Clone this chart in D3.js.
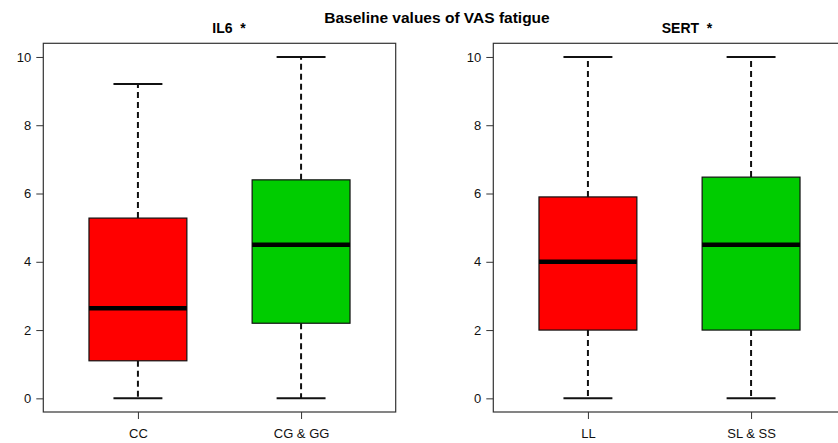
<!DOCTYPE html>
<html lang="en">
<head>
    <meta charset="UTF-8">
    <title>Baseline values of VAS fatigue</title>
    <script src="https://cdn.jsdelivr.net/npm/d3@7/dist/d3.min.js"></script>
    <style>
        body { margin: 0; background: #fff; }
        text { font-family: "Liberation Sans", Arial, sans-serif; }
        .title { font-weight: bold; font-size: 14px; }
        .main { font-weight: bold; font-size: 15.5px; }
    </style>
</head>
<body>
    <script>
        // five-number summaries
        var il6Groups = ["CC", "CG & GG"];
        var il6Low    = [0, 0];
        var il6Q1     = [1.1, 2.2];
        var il6Median = [2.64, 4.5];
        var il6Q3     = [5.28, 6.4];
        var il6High   = [9.21, 10];

        var sertGroups = ["LL", "SL & SS"];
        var sertLow    = [0, 0];
        var sertQ1     = [2, 2];
        var sertMedian = [4, 4.5];
        var sertQ3     = [5.9, 6.48];
        var sertHigh   = [10, 10];

        var boxColors = ["#ff0000", "#00cc00"];
        var yTicks = [0, 2, 4, 6, 8, 10];

        var svg = d3.select("body").append("svg")
            .attr("width", 838)
            .attr("height", 443);

        svg.append("text")
            .attr("class", "main")
            .attr("x", 437).attr("y", 23)
            .attr("text-anchor", "middle")
            .text("Baseline values of VAS fatigue");

        function drawPanel(left, groups, low, q1, med, q3, high, title, titleX) {
            var w = 352.4, top = 43.3, bottom = 412;
            // R style: 4% padding on each axis
            var x = d3.scaleLinear().domain([0.5 - 0.08, 2.5 + 0.08]).range([left, left + w]);
            var y = d3.scaleLinear().domain([-0.4, 10.4]).range([bottom, top]);

            var g = svg.append("g");

            g.append("rect")
                .attr("x", left).attr("y", top)
                .attr("width", w).attr("height", bottom - top)
                .attr("fill", "none").attr("stroke", "#333").attr("stroke-width", 1.2);

            var yAxis = d3.axisLeft(y).tickValues(yTicks).tickSize(7).tickPadding(5);
            var ya = g.append("g").attr("transform", "translate(" + left + ",0)").call(yAxis);
            ya.select(".domain").remove();
            ya.selectAll("line").attr("stroke", "#333");

            var xAxis = d3.axisBottom(x).tickValues([1, 2]).tickSize(7).tickPadding(10)
                .tickFormat(function(d) { return groups[d - 1]; });
            var xa = g.append("g").attr("transform", "translate(0," + bottom + ")").call(xAxis);
            xa.select(".domain").remove();
            xa.selectAll("line").attr("stroke", "#333");

            g.selectAll(".tick text")
                .attr("fill", "#111")
                .style("font-size", "13px")
                .style("font-family", "'Liberation Sans', Arial, sans-serif");

            var data = groups.map(function(n, i) {
                return { i: i + 1, low: low[i], q1: q1[i], med: med[i], q3: q3[i], high: high[i] };
            });

            var bw = 0.3, cap = 0.15;
            var box = g.selectAll(".box").data(data).enter().append("g").attr("class", "box");

            // whiskers
            box.append("line")
                .attr("x1", d => x(d.i)).attr("x2", d => x(d.i))
                .attr("y1", d => y(d.q3)).attr("y2", d => y(d.high))
                .attr("stroke", "#111").attr("stroke-width", 2).attr("stroke-dasharray", "6,4");
            box.append("line")
                .attr("x1", d => x(d.i)).attr("x2", d => x(d.i))
                .attr("y1", d => y(d.q1)).attr("y2", d => y(d.low))
                .attr("stroke", "#111").attr("stroke-width", 2).attr("stroke-dasharray", "6,4");
            // caps
            box.append("line")
                .attr("x1", d => x(d.i - cap)).attr("x2", d => x(d.i + cap))
                .attr("y1", d => y(d.high)).attr("y2", d => y(d.high))
                .attr("stroke", "#111").attr("stroke-width", 2);
            box.append("line")
                .attr("x1", d => x(d.i - cap)).attr("x2", d => x(d.i + cap))
                .attr("y1", d => y(d.low)).attr("y2", d => y(d.low))
                .attr("stroke", "#111").attr("stroke-width", 2);
            // boxes
            box.append("rect")
                .attr("x", d => x(d.i - bw)).attr("width", d => x(d.i + bw) - x(d.i - bw))
                .attr("y", d => y(d.q3)).attr("height", d => y(d.q1) - y(d.q3))
                .attr("fill", (d, i) => boxColors[i])
                .attr("stroke", "#111").attr("stroke-width", 1.2);
            // medians
            box.append("line")
                .attr("x1", d => x(d.i - bw)).attr("x2", d => x(d.i + bw))
                .attr("y1", d => y(d.med)).attr("y2", d => y(d.med))
                .attr("stroke", "#000").attr("stroke-width", 4.5);

            g.append("text")
                .attr("class", "title")
                .attr("x", titleX).attr("y", 33)
                .attr("text-anchor", "middle")
                .text(title);
        }

        drawPanel(43.3, il6Groups, il6Low, il6Q1, il6Median, il6Q3, il6High, "IL6  \u00a0*", 229);
        drawPanel(493.3, sertGroups, sertLow, sertQ1, sertMedian, sertQ3, sertHigh, "SERT  \u00a0*", 687);
    </script>
</body>
</html>
